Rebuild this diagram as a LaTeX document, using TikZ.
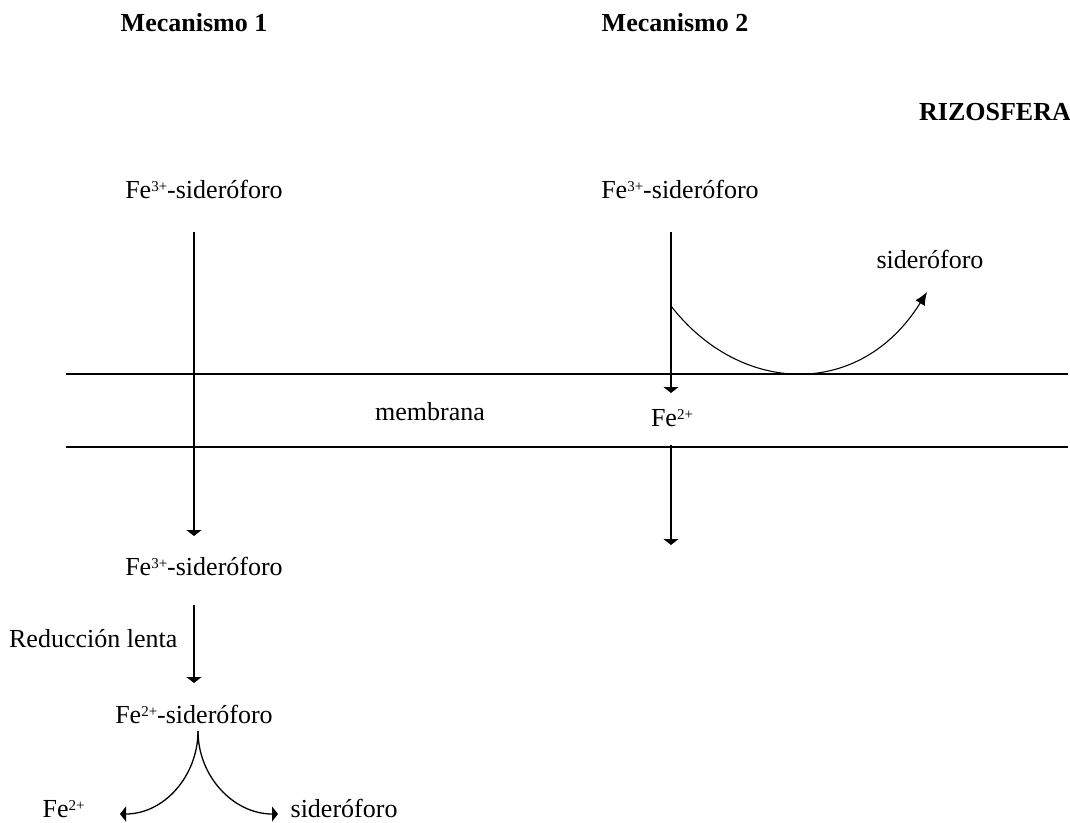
\documentclass[tikz,border=0pt]{standalone}
\usepackage{fontspec}
\setmainfont{Liberation Serif}
\usetikzlibrary{positioning,arrows.meta}

\newcommand{\charge}[1]{\raisebox{7pt}{\fontsize{15}{15}\selectfont #1}}

\begin{document}
\begin{tikzpicture}[
  x=1pt, y=-1pt, line width=1.3pt,
  font=\fontsize{26}{31}\selectfont,
  flow/.style={-{Triangle[width=15pt,length=6pt]}},
  release/.style={-{Latex[width=11pt,length=13pt]}},
  heading/.style={anchor=base, inner sep=0pt, font=\fontsize{26}{31}\selectfont\bfseries},
  txt/.style={anchor=base, inner sep=0pt},
]
  \useasboundingbox (0,0) rectangle (1070,822);

  \node (mec1)[heading] at (194,31) {Mecanismo 1};
  \node (mec2)[heading] at (675,31) {Mecanismo 2};
  \node (rizo)[heading] at (995,120) {RIZOSFERA};

  % membrana
  \coordinate (memb-nw) at (66,374);
  \coordinate (memb-ne) at (1068,374);
  \coordinate (memb-sw) at (66,447);
  \coordinate (memb-se) at (1068,447);
  \draw (memb-nw) -- (memb-ne);
  \draw (memb-sw) -- (memb-se);
  \node (memb)[txt] at (430,420) {membrana};

  % Mecanismo 1
  \node (m1-fe3)[txt] at (204,198) {Fe\charge{3+}-sideróforo};
  \coordinate (m1-in) at (194,232);
  \coordinate (m1-out) at (194,536);
  \draw[flow] (m1-in) -- (m1-out);
  \node (m1-fe3-cel)[txt] at (204,575) {Fe\charge{3+}-sideróforo};
  \coordinate (m1-red-a) at (194,605);
  \coordinate (m1-red-b) at (194,683);
  \draw[flow] (m1-red-a) -- (m1-red-b);
  \node (m1-red)[txt, anchor=base east] at (178,647) {Reducción lenta};
  \node (m1-fe2)[txt] at (194,723) {Fe\charge{2+}-sideróforo};
  \coordinate (m1-split) at (198,731);
  \node (m1-fe2-free)[txt, anchor=base west] at (42,817) {Fe\charge{2+}};
  \node (m1-sid-free)[txt, anchor=base west] at (290,817) {sideróforo};
  \coordinate (m1-left) at (120,814);
  \coordinate (m1-right) at (278,814);
  \draw[flow] (m1-split) to[out=-90,in=0] (m1-left);
  \draw[flow] (m1-split) to[out=-90,in=180] (m1-right);

  % Mecanismo 2
  \node (m2-fe3)[txt] at (680,198) {Fe\charge{3+}-sideróforo};
  \coordinate (m2-in) at (671,232);
  \coordinate (m2-memb) at (671,393);
  \draw[flow] (m2-in) -- (m2-memb);
  \node (m2-fe2)[txt] at (672,426) {Fe\charge{2+}};
  \coordinate (m2-cel-a) at (671,445);
  \coordinate (m2-cel-b) at (671,545);
  \draw[flow] (m2-cel-a) -- (m2-cel-b);
  \coordinate (m2-split) at (671,306);
  \coordinate (m2-sid-tip) at (927,292);
  \node (m2-sid)[txt] at (930,268) {sideróforo};
  \draw[release, line width=1.1pt] (m2-split) .. controls (740,395) and (860,400) .. (m2-sid-tip);
\end{tikzpicture}
\end{document}
